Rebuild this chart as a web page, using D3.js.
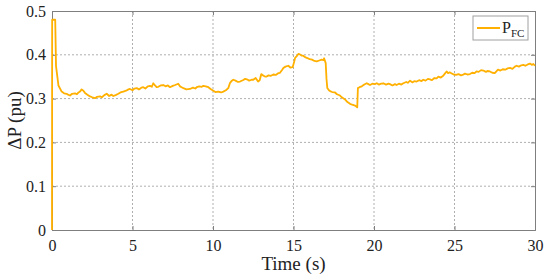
<!DOCTYPE html>
<html><head><meta charset="utf-8">
<script src="https://cdn.jsdelivr.net/npm/d3@7"></script>
<style>body{margin:0;background:#fff}svg{display:block}text{font-family:'Liberation Serif','Times New Roman',serif}</style>
</head><body>
<svg id="c" width="550" height="280"></svg>
<script>
const xTicks = [0,5,10,15,20,25,30];
const yTicks = [0,0.1,0.2,0.3,0.4,0.5];
const seriesName = "P";
const seriesSub = "FC";
const time = [0,0.01,0.2,0.25,0.4,
0.6,0.75,0.91,1.0,1.12,1.25,1.43,1.55,1.65,1.74,1.84,1.95,2.05,2.2,2.36,2.5,2.67,2.8,2.98,3.1,3.25,3.4,3.55,3.7,3.81,3.95,4.12,4.25,4.43,4.6,4.75,4.84,
5.0,5.12,5.26,5.4,5.55,5.67,5.8,5.95,6.09,6.2,6.29,6.4,6.5,6.6,6.75,6.91,7.05,7.2,7.33,7.5,7.65,7.84,7.95,8.05,8.16,8.35,8.57,8.75,8.9,8.99,9.15,9.3,9.4,9.55,9.71,9.85,
10.02,10.15,10.33,10.5,10.64,10.8,10.95,11.06,11.15,11.26,11.4,11.55,11.68,11.85,12.0,12.1,12.25,12.4,12.5,12.65,12.8,12.9,13.0,13.1,13.2,13.3,13.45,13.6,13.75,13.9,14.05,14.16,14.3,14.37,14.5,14.68,14.8,14.95,
15.05,15.1,15.2,15.3,15.4,15.5,15.6,15.75,15.9,16.0,16.15,16.3,16.44,16.6,16.75,16.85,16.9,17.0,17.05,17.1,17.2,17.27,17.4,17.58,17.7,17.89,18.0,18.2,18.35,18.51,18.65,18.82,18.9,18.96,
19.0,19.1,19.24,19.4,19.55,19.65,19.75,19.9,20.05,20.17,20.3,20.45,20.58,20.75,20.9,20.99,21.15,21.3,21.4,21.55,21.7,21.82,22.0,22.1,22.24,22.4,22.5,22.65,22.8,22.95,23.06,23.2,23.35,23.48,23.6,23.75,23.89,24.0,24.15,24.3,24.4,24.51,24.6,24.7,24.8,24.95,
25.1,25.25,25.4,25.5,25.65,25.8,25.96,26.1,26.25,26.37,26.5,26.65,26.79,26.95,27.05,27.2,27.35,27.5,27.6,27.7,27.85,28.0,28.15,28.3,28.45,28.6,28.75,28.86,29.0,29.15,29.28,29.4,29.55,29.69,29.8,29.9,30];
const pFC = [0,0.48,0.48,0.374,0.33,
0.316,0.312,0.311,0.309,0.307,0.311,0.312,0.310,0.314,0.316,0.321,0.318,0.313,0.309,0.305,0.303,0.301,0.304,0.305,0.303,0.308,0.311,0.306,0.309,0.306,0.308,0.311,0.314,0.316,0.318,0.321,0.322,
0.319,0.323,0.324,0.321,0.325,0.326,0.323,0.328,0.329,0.327,0.335,0.330,0.326,0.327,0.330,0.331,0.328,0.330,0.326,0.329,0.331,0.334,0.328,0.326,0.324,0.321,0.322,0.325,0.323,0.326,0.328,0.327,0.329,0.328,0.326,0.322,
0.318,0.315,0.316,0.314,0.316,0.319,0.324,0.336,0.340,0.343,0.341,0.338,0.339,0.342,0.345,0.344,0.341,0.343,0.343,0.347,0.339,0.342,0.356,0.353,0.351,0.350,0.353,0.352,0.355,0.354,0.358,0.359,0.366,0.370,0.373,0.375,0.371,0.372,
0.385,0.393,0.397,0.402,0.401,0.398,0.398,0.394,0.392,0.390,0.389,0.386,0.385,0.387,0.389,0.388,0.392,0.381,0.345,0.324,0.319,0.317,0.315,0.314,0.310,0.307,0.303,0.298,0.292,0.288,0.286,0.284,0.282,0.280,
0.324,0.326,0.328,0.332,0.335,0.333,0.331,0.334,0.333,0.335,0.332,0.334,0.335,0.332,0.334,0.333,0.330,0.333,0.331,0.334,0.332,0.335,0.338,0.336,0.341,0.337,0.340,0.339,0.342,0.340,0.343,0.341,0.345,0.344,0.342,0.347,0.346,0.350,0.348,0.352,0.357,0.362,0.358,0.360,0.358,0.355,
0.354,0.356,0.353,0.354,0.357,0.355,0.356,0.359,0.358,0.362,0.361,0.365,0.364,0.361,0.363,0.362,0.359,0.358,0.362,0.366,0.364,0.367,0.366,0.369,0.370,0.368,0.373,0.375,0.373,0.376,0.377,0.375,0.378,0.380,0.377,0.379,0.375];

const svg = d3.select("#c");
const L=52, R=535, T=11, B=230;
const x = d3.scaleLinear().domain([0,30]).range([L,R]);
const y = d3.scaleLinear().domain([0,0.5]).range([B,T]);
const font = "'Liberation Serif','Times New Roman',serif";
const axisColor = "#7f7f7f";

// grid
svg.append("g").selectAll("line").data(xTicks.slice(1,-1)).join("line")
  .attr("x1",d=>x(d)).attr("x2",d=>x(d)).attr("y1",T).attr("y2",B)
  .attr("stroke","#b0b0b0").attr("stroke-width",1).attr("stroke-dasharray","2,2");
svg.append("g").selectAll("line").data(yTicks.slice(1,-1)).join("line")
  .attr("x1",L).attr("x2",R).attr("y1",d=>y(d)).attr("y2",d=>y(d))
  .attr("stroke","#b0b0b0").attr("stroke-width",1).attr("stroke-dasharray","2,2");

// axes
svg.append("g").attr("transform",`translate(0,${B})`)
  .call(d3.axisBottom(x).tickValues(xTicks).tickSize(-4).tickPadding(10).tickFormat(d3.format("d")));
svg.append("g").attr("transform",`translate(${L},0)`)
  .call(d3.axisLeft(y).tickValues(yTicks).tickSize(-4).tickPadding(6).tickFormat(d=>d===0?"0":d3.format(".1f")(d)));
svg.append("g").attr("transform",`translate(0,${T})`)
  .call(d3.axisTop(x).tickValues(xTicks).tickSize(-4).tickFormat(""));
svg.append("g").attr("transform",`translate(${R},0)`)
  .call(d3.axisRight(y).tickValues(yTicks).tickSize(-4).tickFormat(""));
svg.selectAll("g").attr("font-family",null);
svg.selectAll(".domain, .tick line").attr("stroke",axisColor);
svg.selectAll(".tick text").style("font-family",font).attr("font-size",16).attr("fill","#222");

// line
svg.append("path").datum(time.map((t,i)=>[t,pFC[i]]))
  .attr("fill","none").attr("stroke","#FFB000").attr("stroke-width",1.8)
  .attr("stroke-linejoin","round")
  .attr("d",d3.line().x(d=>x(d[0])).y(d=>y(d[1])));

// labels
svg.append("text").attr("x",(L+R)/2).attr("y",270).attr("text-anchor","middle")
  .style("font-family",font).attr("font-size",19).attr("fill","#222").text("Time (s)");
svg.append("text").attr("transform",`translate(21,${(T+B)/2}) rotate(-90)`).attr("text-anchor","middle")
  .style("font-family",font).attr("font-size",19).attr("fill","#222").text("ΔP (pu)");

// legend
const lg = svg.append("g");
lg.append("rect").attr("x",473).attr("y",16).attr("width",55).attr("height",24)
  .attr("fill","#fff").attr("stroke","#a0a0a0").attr("stroke-width",1);
lg.append("line").attr("x1",477).attr("x2",500).attr("y1",28).attr("y2",28)
  .attr("stroke","#FFB000").attr("stroke-width",2);
const lt = lg.append("text").attr("x",502).attr("y",33).style("font-family",font).attr("fill","#222").attr("font-size",16);
lt.append("tspan").text(seriesName);
lt.append("tspan").attr("dy",4).attr("font-size",11).text(seriesSub);
</script>
</body></html>
